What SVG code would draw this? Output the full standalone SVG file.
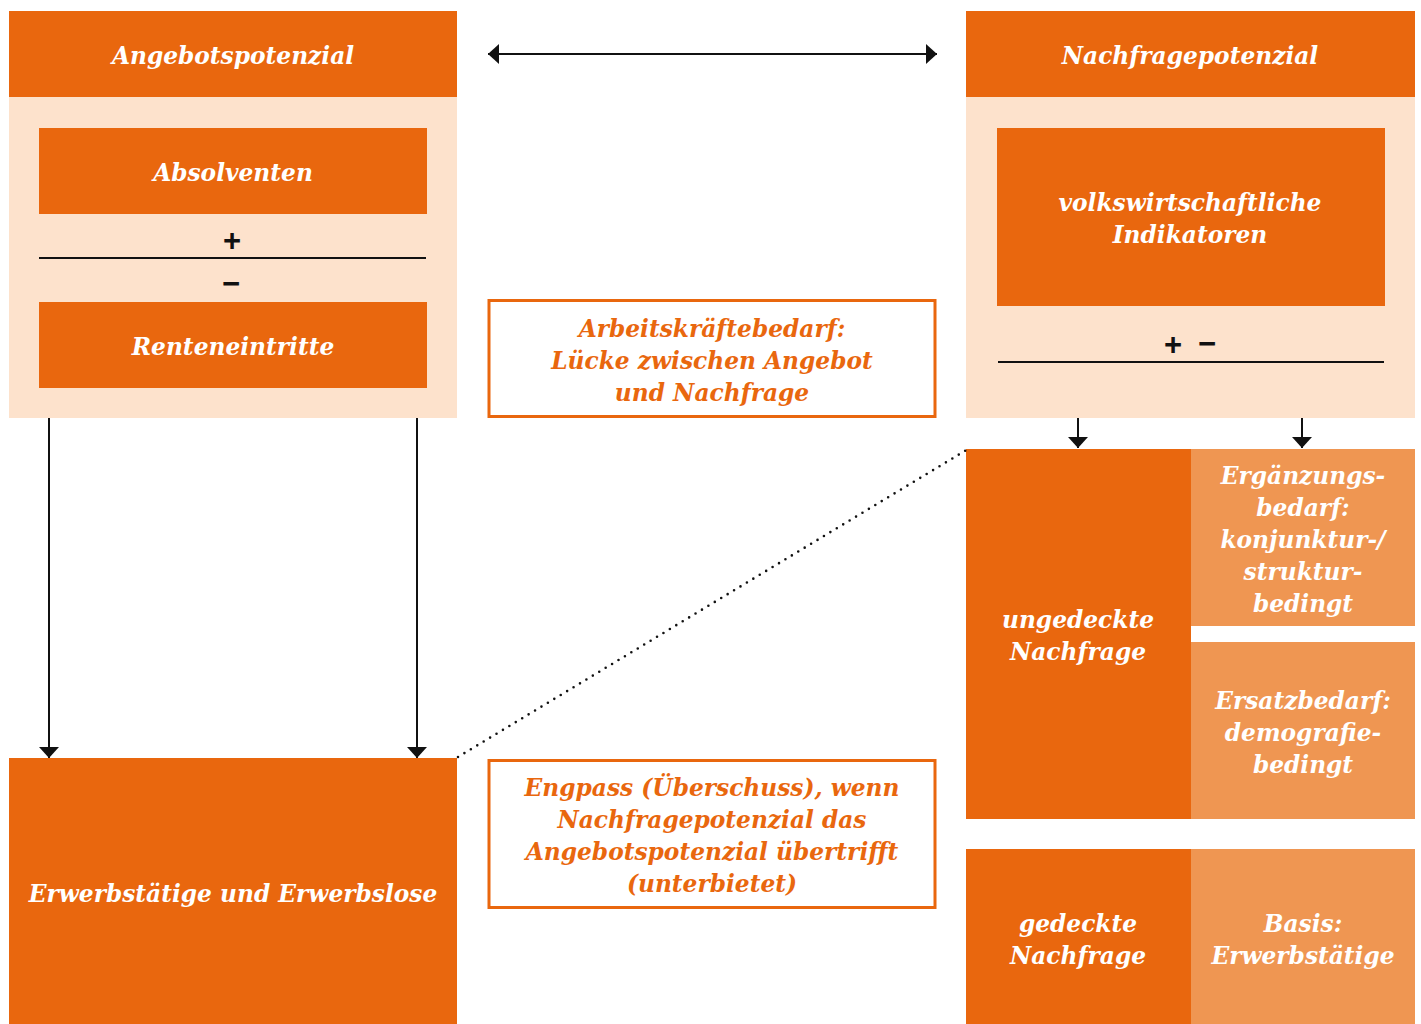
<svg xmlns="http://www.w3.org/2000/svg" width="1421" height="1024" viewBox="0 0 1421 1024">
  <style>
    .dark { fill: #E9670E; }
    .light { fill: #EF9652; }
    .panel { fill: #FDE2CC; }
    .frame { fill: #FFFFFF; stroke: #E9670E; stroke-width: 3; }
    .t { font-family: "DejaVu Serif", "Liberation Serif", serif; font-weight: bold; font-style: italic; font-size: 23.3px; text-anchor: middle; dominant-baseline: central; }
    .w { fill: #FFFFFF; }
    .o { fill: #E9670E; }
    .sign { font-family: "Liberation Sans", Arial, sans-serif; font-weight: bold; font-size: 31px; text-anchor: middle; dominant-baseline: central; fill: #111111; }
    .rule { stroke: #111111; stroke-width: 2; }
    .conn { stroke: #111111; stroke-width: 2; fill: none; }
    .dots { stroke: #111111; stroke-width: 2.6; stroke-linecap: round; stroke-dasharray: 0 7.5; fill: none; }
  </style>
  <defs>
    <marker id="arrow" viewBox="0 0 11 20" refX="11" refY="10" markerWidth="11" markerHeight="20" markerUnits="userSpaceOnUse" orient="auto-start-reverse">
      <path d="M0,0 L11,10 L0,20 Z" fill="#111111"/>
    </marker>
  </defs>

  <rect width="1421" height="1024" fill="#FFFFFF"/>

  <!-- supply side -->
  <g id="angebotspotenzial">
    <rect class="panel" x="9" y="97" width="448" height="321"/>
    <rect class="dark" x="9" y="11" width="448" height="86"/>
    <text class="t w" x="233" y="55">Angebotspotenzial</text>
  </g>
  <g id="absolventen">
    <rect class="dark" x="39" y="128" width="388" height="86"/>
    <text class="t w" x="233" y="172">Absolventen</text>
  </g>
  <g id="saldo-angebot">
    <text class="sign" x="232" y="240">+</text>
    <line class="rule" x1="39" y1="258" x2="426" y2="258"/>
    <text class="sign" x="231" y="283">−</text>
  </g>
  <g id="renteneintritte">
    <rect class="dark" x="39" y="302" width="388" height="86"/>
    <text class="t w" x="233" y="346">Renteneintritte</text>
  </g>
  <g id="erwerbspersonen">
    <rect class="dark" x="9" y="758" width="448" height="266"/>
    <text class="t w" x="233" y="893">Erwerbstätige und Erwerbslose</text>
  </g>

  <!-- demand side -->
  <g id="nachfragepotenzial">
    <rect class="panel" x="966" y="97" width="449" height="321"/>
    <rect class="dark" x="966" y="11" width="449" height="86"/>
    <text class="t w" x="1190" y="55">Nachfragepotenzial</text>
  </g>
  <g id="indikatoren">
    <rect class="dark" x="997" y="128" width="388" height="178"/>
    <text class="t w" x="1190" y="202">volkswirtschaftliche</text>
    <text class="t w" x="1190" y="234">Indikatoren</text>
  </g>
  <g id="saldo-nachfrage">
    <text class="sign" x="1173" y="344">+</text>
    <text class="sign" x="1207" y="343">−</text>
    <line class="rule" x1="998" y1="362" x2="1384" y2="362"/>
  </g>
  <g id="ungedeckte-nachfrage">
    <rect class="dark" x="966" y="449" width="225" height="370"/>
    <text class="t w" x="1078" y="619">ungedeckte</text>
    <text class="t w" x="1078" y="651">Nachfrage</text>
  </g>
  <g id="ergaenzungsbedarf">
    <rect class="light" x="1191" y="449" width="224" height="177"/>
    <text class="t w" x="1303" y="475">Ergänzungs-</text>
    <text class="t w" x="1303" y="507">bedarf:</text>
    <text class="t w" x="1303" y="539">konjunktur-/</text>
    <text class="t w" x="1303" y="571">struktur-</text>
    <text class="t w" x="1303" y="603">bedingt</text>
  </g>
  <g id="ersatzbedarf">
    <rect class="light" x="1191" y="642" width="224" height="177"/>
    <text class="t w" x="1303" y="700">Ersatzbedarf:</text>
    <text class="t w" x="1303" y="732">demografie-</text>
    <text class="t w" x="1303" y="764">bedingt</text>
  </g>
  <g id="gedeckte-nachfrage">
    <rect class="dark" x="966" y="849" width="225" height="175"/>
    <text class="t w" x="1078" y="923">gedeckte</text>
    <text class="t w" x="1078" y="955">Nachfrage</text>
  </g>
  <g id="basis">
    <rect class="light" x="1191" y="849" width="224" height="175"/>
    <text class="t w" x="1303" y="923">Basis:</text>
    <text class="t w" x="1303" y="955">Erwerbstätige</text>
  </g>

  <!-- notes in the middle column -->
  <g id="arbeitskraeftebedarf">
    <rect class="frame" x="489" y="300.5" width="446" height="116"/>
    <text class="t o" x="712" y="328">Arbeitskräftebedarf:</text>
    <text class="t o" x="712" y="360">Lücke zwischen Angebot</text>
    <text class="t o" x="712" y="392">und Nachfrage</text>
  </g>
  <g id="engpass">
    <rect class="frame" x="489" y="760.5" width="446" height="147"/>
    <text class="t o" x="712" y="787">Engpass (Überschuss), wenn</text>
    <text class="t o" x="712" y="819">Nachfragepotenzial das</text>
    <text class="t o" x="712" y="851">Angebotspotenzial übertrifft</text>
    <text class="t o" x="712" y="883">(unterbietet)</text>
  </g>

  <!-- connectors -->
  <g id="connectors">
    <line class="conn" x1="488" y1="54" x2="937" y2="54" marker-start="url(#arrow)" marker-end="url(#arrow)"/>
    <line class="conn" x1="49" y1="418" x2="49" y2="758" marker-end="url(#arrow)"/>
    <line class="conn" x1="417" y1="418" x2="417" y2="758" marker-end="url(#arrow)"/>
    <line class="conn" x1="1078" y1="418" x2="1078" y2="448" marker-end="url(#arrow)"/>
    <line class="conn" x1="1302" y1="418" x2="1302" y2="448" marker-end="url(#arrow)"/>
    <line class="dots" x1="458" y1="757" x2="968" y2="449"/>
  </g>
</svg>
